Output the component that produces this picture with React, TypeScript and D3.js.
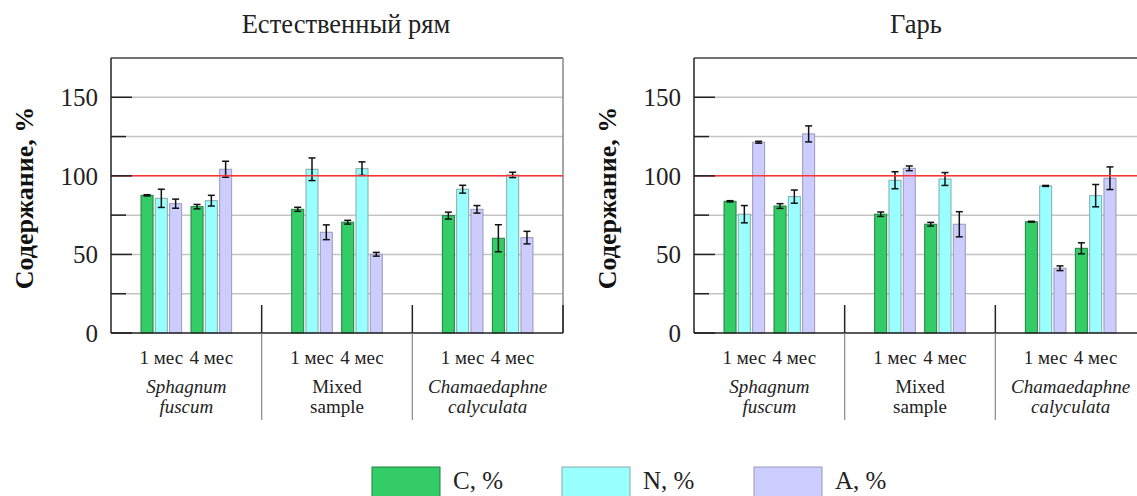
import React from "react";
import * as d3 from "d3";

// ---------- data ----------
const panelTitles = ["Естественный рям", "Гарь"];
const groupKeys = ["Sphagnum fuscum", "Mixed sample", "Chamaedaphne calyculata"];
const groupLine1 = ["Sphagnum", "Mixed", "Chamaedaphne"];
const groupLine2 = ["fuscum", "sample", "calyculata"];
const groupItalic = [true, false, true];
const periods = ["1 мес", "4 мес"];
const seriesNames = ["C, %", "N, %", "A, %"];
const yTicksMajor = [0, 50, 100, 150];
const yTicksMinor = [25, 75, 125];
const refValue = 100;

// order: Sph 1m, Sph 4m, Mix 1m, Mix 4m, Cham 1m, Cham 4m
const natC = [87.6, 80.4, 78.7, 70.5, 74.7, 60.3];
const natN = [85.7, 84.2, 104.2, 104.6, 91.5, 100.6];
const natA = [82.3, 104.2, 64.1, 50.1, 78.7, 60.7];
const natCerr = [0.4, 1.4, 1.3, 1.2, 2.2, 8.6];
const natNerr = [5.8, 3.4, 7.2, 4.3, 2.5, 1.7];
const natAerr = [2.9, 5.1, 4.7, 1.2, 2.4, 4.0];

const burnC = [83.8, 80.8, 75.6, 69.2, 70.8, 53.9];
const burnN = [75.6, 86.8, 97.2, 98.0, 93.6, 87.4];
const burnA = [121.4, 126.7, 104.8, 69.2, 41.2, 98.5];
const burnCerr = [0.4, 1.5, 1.4, 1.2, 0.3, 3.5];
const burnNerr = [5.5, 4.2, 5.4, 4.1, 0.3, 7.1];
const burnAerr = [0.6, 5.1, 1.5, 8.0, 1.5, 7.2];

const panels = [
  { title: panelTitles[0], values: [natC, natN, natA], errors: [natCerr, natNerr, natAerr] },
  { title: panelTitles[1], values: [burnC, burnN, burnA], errors: [burnCerr, burnNerr, burnAerr] },
];

// ---------- styles ----------
const fills = ["#33cc66", "#99ffff", "#ccccff"];
const strokes = ["#1f8040", "#88aaaa", "#9999bb"];
const FONT = '"Liberation Serif", "DejaVu Serif", serif';
const fs = (size: number, extra: React.CSSProperties = {}): React.CSSProperties => ({
  fontFamily: FONT,
  fontSize: size,
  ...extra,
});

const W = 1137;
const H = 496;
const plotW = 452;
const plotTop = 58;
const plotBottom = 333;
const panelX = [111, 694];
const titleX = [346, 916];

function Panel({ p, x0 }: { p: typeof panels[0]; x0: number }) {
  const y = d3.scaleLinear().domain([0, 175]).range([plotBottom, plotTop]);
  const gx = d3.scaleBand().domain(groupKeys).range([0, plotW]).padding(0);
  const gw = gx.bandwidth();
  const px = d3.scaleBand().domain(periods).range([gw / 2 - 50, gw / 2 + 50]).padding(0);
  const sx = d3
    .scaleBand()
    .domain(seriesNames)
    .range([px.bandwidth() / 2 - 21.45, px.bandwidth() / 2 + 21.45])
    .paddingInner(0.16)
    .paddingOuter(0.08);
  const bw = sx.bandwidth();

  const bars: React.ReactNode[] = [];
  const errs: React.ReactNode[] = [];
  groupKeys.forEach((g, gi) => {
    periods.forEach((per, pi) => {
      const idx = gi * 2 + pi;
      seriesNames.forEach((s, si) => {
        const v = p.values[si][idx];
        const e = p.errors[si][idx];
        const bx = (gx(g) as number) + (px(per) as number) + (sx(s) as number);
        bars.push(
          <rect
            key={`b${idx}-${si}`}
            x={bx}
            y={y(v)}
            width={bw}
            height={y(0) - y(v)}
            fill={fills[si]}
            stroke={strokes[si]}
            strokeWidth={1}
          />
        );
        const cx = bx + bw / 2;
        errs.push(
          <g key={`e${idx}-${si}`} stroke="#111" strokeWidth={1.5}>
            <line x1={cx} x2={cx} y1={y(v + e)} y2={y(v - e)} />
            <line x1={cx - 3.5} x2={cx + 3.5} y1={y(v + e)} y2={y(v + e)} />
            <line x1={cx - 3.5} x2={cx + 3.5} y1={y(v - e)} y2={y(v - e)} />
          </g>
        );
      });
    });
  });

  return (
    <g transform={`translate(${x0},0)`}>
      {[...yTicksMinor, ...yTicksMajor.filter((t) => t > 0)].map((t) => (
        <line key={`g${t}`} x1={0} x2={plotW} y1={y(t)} y2={y(t)} stroke="#c4c4c4" strokeWidth={1.5} />
      ))}
      <line x1={0} x2={plotW} y1={plotTop} y2={plotTop} stroke="#444" strokeWidth={1.5} />
      <line x1={plotW} x2={plotW} y1={plotTop} y2={plotBottom} stroke="#888" strokeWidth={1.5} />
      {bars}
      {errs}
      <line x1={0} x2={plotW} y1={y(refValue)} y2={y(refValue)} stroke="#ff3333" strokeWidth={1.5} />
      {yTicksMajor.map((t) => (
        <g key={`t${t}`}>
          <line x1={0} x2={21} y1={y(t)} y2={y(t)} stroke="#222" strokeWidth={1.5} />
          <text x={-13} y={y(t) + 9} textAnchor="end" style={fs(25)} fill="#222">
            {t}
          </text>
        </g>
      ))}
      {yTicksMinor.map((t) => (
        <line key={`m${t}`} x1={0} x2={15} y1={y(t)} y2={y(t)} stroke="#222" strokeWidth={1.5} />
      ))}
      <line x1={0} x2={0} y1={plotTop} y2={plotBottom} stroke="#222" strokeWidth={1.5} />
      <line x1={0} x2={plotW} y1={plotBottom} y2={plotBottom} stroke="#222" strokeWidth={1.5} />
      {groupKeys.map((g, gi) => {
        const sxp = (gx(g) as number) + gw;
        return (
          <g key={`s${gi}`}>
            <line x1={sxp} x2={sxp} y1={305} y2={plotBottom} stroke="#222" strokeWidth={1.5} />
            {gi < 2 && <line x1={sxp} x2={sxp} y1={plotBottom} y2={420} stroke="#888" strokeWidth={1.2} />}
          </g>
        );
      })}
      {groupKeys.map((g, gi) => {
        const gx0 = gx(g) as number;
        const st = fs(19, { fontStyle: groupItalic[gi] ? "italic" : "normal" });
        return (
          <g key={`c${gi}`} fill="#222" textAnchor="middle">
            {periods.map((per) => (
              <text key={per} x={gx0 + (px(per) as number) + px.bandwidth() / 2} y={364} style={fs(19)}>
                {per}
              </text>
            ))}
            <text x={gx0 + gw / 2} y={393} style={st}>
              {groupLine1[gi]}
            </text>
            <text x={gx0 + gw / 2} y={413} style={st}>
              {groupLine2[gi]}
            </text>
          </g>
        );
      })}
      <text
        transform={`translate(${33 - 111},198) rotate(-90)`}
        textAnchor="middle"
        style={fs(26, { fontWeight: "bold" })}
        fill="#111"
      >
        Содержание, %
      </text>
    </g>
  );
}

export default function App() {
  const legendX = [372, 562, 754];
  return (
    <svg width={W} height={H} style={{ position: "absolute", left: 0, top: 0, background: "#fff" }}>
      <rect width={W} height={H} fill="#fff" />
      {panels.map((p, i) => (
        <g key={i}>
          <text x={titleX[i]} y={33} textAnchor="middle" style={fs(26.5)} fill="#222">
            {p.title}
          </text>
          <Panel p={p} x0={panelX[i]} />
        </g>
      ))}
      {seriesNames.map((s, i) => (
        <g key={s}>
          <rect x={legendX[i]} y={467} width={68} height={34} fill={fills[i]} stroke={strokes[i]} strokeWidth={1} />
          <text x={legendX[i] + 81} y={489} style={fs(25)} fill="#222">
            {s}
          </text>
        </g>
      ))}
    </svg>
  );
}
